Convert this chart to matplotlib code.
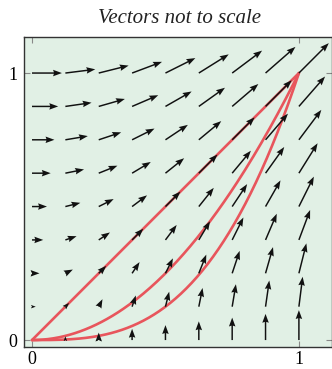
import matplotlib.pyplot as plt
import numpy as np

# grid of sample points for the field F = y i + x j
grid_x = [0, 0.125, 0.25, 0.375, 0.5, 0.625, 0.75, 0.875, 1.0]
grid_y = [0, 0.125, 0.25, 0.375, 0.5, 0.625, 0.75, 0.875, 1.0]
curve_powers = [1, 2, 3]   # paths y = x, y = x^2, y = x^3
tick_vals = [0, 1]
tick_labels = ["0", "1"]

X, Y = np.meshgrid(grid_x, grid_y)
U = Y.copy()
V = X.copy()
keep = (U ** 2 + V ** 2) > 0

fig = plt.figure(figsize=(3.32, 3.69), dpi=100)
ax = fig.add_axes([24/332, 22/369, 308/332, 310/369])
ax.set_facecolor("#e1f0e5")

t = np.linspace(0, 1, 200)
for p in curve_powers:
    ax.plot(t, t ** p, color="#e8555c", lw=1.9, zorder=2, solid_capstyle="round")

ax.quiver(X[keep], Y[keep], U[keep], V[keep], angles="xy", scale_units="xy",
          scale=1/0.112, pivot="tail", color="#111111", width=0.0048,
          headwidth=4.4, headlength=6.0, headaxislength=5.4, minshaft=0.8,
          zorder=3)

ax.set_xlim(-0.030, 1.124)
ax.set_ylim(-0.026, 1.135)
ax.set_xticks(tick_vals)
ax.set_xticklabels(tick_labels)
ax.set_yticks(tick_vals)
ax.set_yticklabels(tick_labels)
ax.tick_params(direction="in", length=4, color="#888888", top=True, right=True,
               labelsize=13, pad=3)
ax.tick_params(axis="y", pad=5)
for lab in ax.get_xticklabels() + ax.get_yticklabels():
    lab.set_family("Liberation Serif")
for s in ax.spines.values():
    s.set_color("#333333")
    s.set_linewidth(1.0)

fig.text(0.54, 0.951, "Vectors not to scale", ha="center", va="center",
         family="Liberation Serif", style="italic", fontsize=15, color="#222222")

fig.savefig("out.png", dpi=100)
